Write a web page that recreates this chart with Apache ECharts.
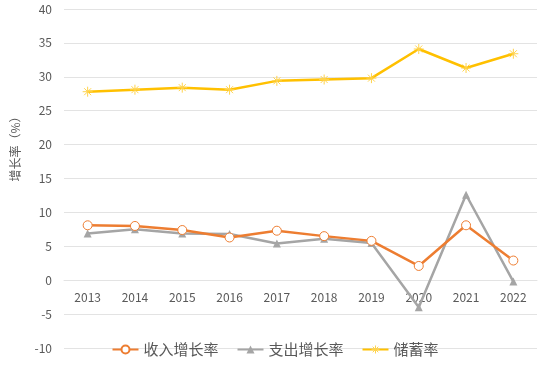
<!DOCTYPE html>
<html><head><meta charset="utf-8">
<script src="https://cdn.jsdelivr.net/npm/echarts@6/dist/echarts.min.js"></script>
<style>html,body{margin:0;padding:0;background:#fff}#c{width:550px;height:375px}</style>
</head><body><div id="c"></div>
<script>
const years = ['2013','2014','2015','2016','2017','2018','2019','2020','2021','2022'];
const incomeGrowth = [8.1, 8.0, 7.4, 6.3, 7.3, 6.5, 5.8, 2.1, 8.1, 2.9];
const spendGrowth = [6.9, 7.5, 6.9, 6.8, 5.4, 6.1, 5.5, -4.0, 12.6, -0.2];
const savingRate = [27.8, 28.1, 28.4, 28.1, 29.4, 29.6, 29.8, 34.1, 31.3, 33.4];
const seriesNames = ['收入增长率', '支出增长率', '储蓄率'];
const yAxisTitle = '增长率（%）';

const font = '"Noto Sans CJK SC", "Noto Sans", sans-serif';
const starPath = 'path://M5,0L5,10M0,5L10,5M1.5,1.5L8.5,8.5M8.5,1.5L1.5,8.5';
const chart = echarts.init(document.getElementById('c'));
chart.setOption({
  animation: false,
  textStyle: { fontFamily: font },
  grid: { left: 64, right: 13, top: 9, bottom: 27 },
  legend: {
    bottom: 13, left: 'center', itemWidth: 26, itemHeight: 10, itemGap: 18,
    textStyle: { fontSize: 15, color: '#595959', fontFamily: font },
    data: [
      { name: seriesNames[0] },
      { name: seriesNames[1] },
      { name: seriesNames[2], itemStyle: { color: 'rgba(0,0,0,0)', borderColor: '#FFD34D', borderWidth: 1 } }
    ]
  },
  graphic: [{
    type: 'text', x: 15, y: 146, rotation: Math.PI / 2,
    style: { text: yAxisTitle, fill: '#595959', font: '12px ' + font, textAlign: 'center', textVerticalAlign: 'middle' }
  }],
  xAxis: {
    type: 'category', data: years, boundaryGap: true,
    axisLine: { show: true, onZero: true, lineStyle: { color: '#e3e3e3' } },
    axisTick: { show: false },
    axisLabel: { color: '#595959', fontSize: 12, margin: -57 }
  },
  yAxis: {
    type: 'value', min: -10, max: 40, interval: 5,
    axisLine: { show: false }, axisTick: { show: false },
    axisLabel: { color: '#595959', fontSize: 12, margin: 12 },
    splitLine: { lineStyle: { color: '#e3e3e3', width: 1 } }
  },
  series: [
    { name: seriesNames[0], type: 'line', data: incomeGrowth,
      lineStyle: { color: '#ED7D31', width: 2.5 },
      itemStyle: { color: '#ffffff', borderColor: '#ED7D31', borderWidth: 1 },
      symbol: 'circle', symbolSize: 9, z: 3 },
    { name: seriesNames[1], type: 'line', data: spendGrowth,
      lineStyle: { color: '#A5A5A5', width: 2.5 },
      itemStyle: { color: '#A5A5A5' },
      symbol: 'triangle', symbolSize: 8, z: 2 },
    { name: seriesNames[2], type: 'line', data: savingRate,
      lineStyle: { color: '#FFC000', width: 2.5 },
      itemStyle: { color: 'rgba(0,0,0,0)', borderColor: '#FFD34D', borderWidth: 1 },
      symbol: starPath, symbolSize: 10, z: 4 }
  ]
});
</script></body></html>
